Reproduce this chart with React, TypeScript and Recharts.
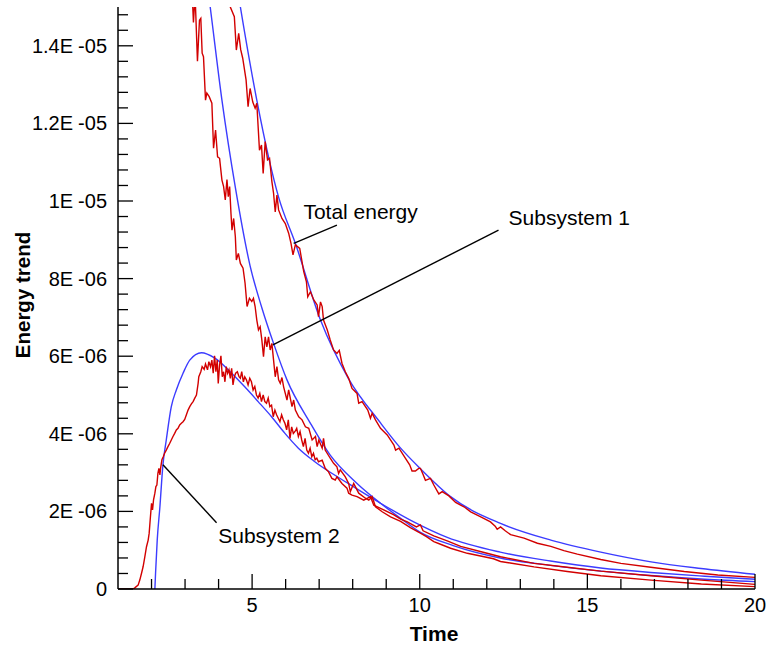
import React from "react";
import { LineChart, Line, XAxis, YAxis, ReferenceLine, ReferenceDot } from "recharts";

// values: [time, energy in units of 1E-06]
const RED_TOTAL: [number, number][] = [
  [4.3, 15.6], [4.35, 15.0], [4.47, 14.75], [4.53, 13.89], [4.6, 14.32], [4.66, 13.9],
  [4.72, 13.68], [4.82, 13.12], [4.88, 12.43], [4.94, 12.9], [5.02, 12.55], [5.09, 12.39],
  [5.14, 12.52], [5.22, 11.31], [5.28, 11.44], [5.33, 10.71], [5.39, 11.53], [5.46, 11.06],
  [5.52, 11.1], [5.59, 10.5], [5.64, 10.2], [5.69, 9.72], [5.74, 10.15], [5.79, 9.77],
  [5.89, 9.55], [5.99, 9.42], [6.09, 9.17], [6.16, 8.91], [6.22, 8.61], [6.29, 8.87],
  [6.42, 8.78], [6.54, 8.18], [6.62, 7.92], [6.66, 7.53], [6.74, 7.66], [6.84, 7.45],
  [6.94, 7.32], [6.98, 7.02], [7.04, 7.4], [7.09, 7.28], [7.13, 6.93], [7.24, 6.68],
  [7.33, 6.42], [7.43, 6.16], [7.53, 6.07], [7.6, 6.15], [7.68, 5.82], [7.78, 5.6],
  [7.88, 5.43], [7.98, 5.17], [8.13, 5.04], [8.18, 4.79], [8.28, 4.83], [8.45, 4.61],
  [8.53, 4.4], [8.58, 4.53], [8.68, 4.36], [8.83, 4.14], [9.03, 3.97], [9.23, 3.71],
  [9.28, 3.58], [9.38, 3.63], [9.57, 3.37], [9.7, 3.2], [9.77, 3.04], [9.87, 3.04],
  [9.97, 3.11], [10.02, 3.11], [10.1, 2.95], [10.17, 2.8], [10.32, 2.85], [10.42, 2.68],
  [10.57, 2.45], [10.67, 2.51], [10.87, 2.4], [11.07, 2.23], [11.22, 2.16], [11.32, 2.12],
  [11.52, 1.99], [11.82, 1.86], [12.11, 1.73], [12.25, 1.62], [12.31, 1.54], [12.41, 1.6],
  [12.55, 1.5], [12.71, 1.4], [13.11, 1.31], [13.51, 1.18], [13.91, 1.1], [14.3, 0.99],
  [14.7, 0.9], [15.4, 0.76], [16.0, 0.66], [16.89, 0.56], [17.89, 0.45], [18.89, 0.36],
  [20.0, 0.3],
];

const RED_SUB1: [number, number][] = [
  [3.2, 15.6], [3.25, 14.6], [3.3, 15.3], [3.37, 13.6], [3.43, 14.66], [3.47, 14.71],
  [3.51, 13.81], [3.55, 13.72], [3.61, 12.6], [3.65, 12.78], [3.72, 12.69], [3.8, 12.52],
  [3.85, 11.36], [3.91, 11.83], [3.97, 11.14], [4.03, 11.1], [4.1, 10.54], [4.15, 10.37],
  [4.2, 10.03], [4.25, 10.55], [4.29, 10.11], [4.33, 10.37], [4.37, 9.68], [4.4, 9.25],
  [4.45, 9.55], [4.5, 9.08], [4.53, 8.48], [4.59, 8.65], [4.65, 8.39], [4.73, 8.27],
  [4.79, 7.88], [4.85, 7.28], [4.92, 7.49], [4.99, 7.41], [5.04, 7.49], [5.09, 7.28],
  [5.14, 6.93], [5.19, 6.68], [5.24, 6.76], [5.29, 6.42], [5.34, 5.99], [5.39, 6.5],
  [5.44, 6.24], [5.49, 6.5], [5.54, 6.16], [5.59, 6.33], [5.64, 5.9], [5.69, 5.47],
  [5.74, 5.73], [5.79, 5.39], [5.84, 5.3], [5.89, 5.45], [5.94, 5.21], [6.04, 4.87],
  [6.09, 5.13], [6.19, 4.7], [6.24, 4.87], [6.29, 4.61], [6.39, 4.44], [6.49, 4.36],
  [6.59, 4.18], [6.69, 4.14], [6.79, 3.84], [6.89, 3.93], [6.94, 3.67], [6.99, 3.84],
  [7.09, 3.63], [7.13, 3.88], [7.18, 3.58], [7.33, 3.37], [7.43, 3.24], [7.53, 3.15],
  [7.58, 2.98], [7.63, 3.07], [7.78, 2.89], [7.88, 2.72], [7.93, 2.51], [8.03, 2.72],
  [8.18, 2.47], [8.38, 2.34], [8.48, 2.29], [8.58, 2.38], [8.68, 2.12], [8.88, 1.99],
  [9.13, 1.86], [9.43, 1.74], [9.72, 1.58], [10.02, 1.44], [10.2, 1.35], [10.42, 1.22],
  [10.6, 1.16], [10.92, 1.05], [11.42, 0.92], [11.92, 0.83], [12.2, 0.78], [12.41, 0.71],
  [12.7, 0.67], [13.41, 0.57], [14.4, 0.45], [15.4, 0.34], [16.9, 0.23], [18.4, 0.13],
  [20.0, 0.06],
];

const RED_SUB2: [number, number][] = [
  [1.0, 0], [1.45, 0], [1.5, 0.03], [1.6, 0.1], [1.65, 0.23], [1.7, 0.4], [1.75, 0.58],
  [1.8, 0.83], [1.85, 1.09], [1.9, 1.26], [1.93, 1.44], [1.96, 1.78], [2.0, 2.21],
  [2.03, 2.04], [2.06, 2.3], [2.1, 2.47], [2.13, 2.64], [2.16, 2.68], [2.19, 2.98],
  [2.22, 3.11], [2.25, 2.94], [2.27, 3.11], [2.31, 3.33], [2.35, 3.41], [2.39, 3.5],
  [2.44, 3.58], [2.49, 3.67], [2.54, 3.75], [2.59, 3.84], [2.64, 3.93], [2.69, 4.01],
  [2.74, 4.1], [2.79, 4.14], [2.84, 4.23], [2.89, 4.27], [2.94, 4.31], [2.99, 4.37],
  [3.04, 4.49], [3.09, 4.61], [3.14, 4.7], [3.19, 4.77], [3.24, 4.83], [3.29, 4.92],
  [3.34, 5.0], [3.39, 5.3], [3.41, 5.47], [3.47, 5.6], [3.51, 5.73], [3.57, 5.66],
  [3.61, 5.8], [3.67, 5.65], [3.71, 5.86], [3.76, 5.73], [3.8, 5.9], [3.84, 5.56],
  [3.88, 6.01], [3.92, 5.6], [3.96, 5.9], [3.99, 5.3], [4.03, 5.77], [4.07, 6.01],
  [4.11, 5.47], [4.15, 5.6], [4.19, 5.34], [4.23, 5.73], [4.27, 5.56], [4.31, 5.65],
  [4.35, 5.43], [4.39, 5.69], [4.43, 5.26], [4.47, 5.47], [4.51, 5.56], [4.56, 5.6],
  [4.61, 5.47], [4.65, 5.43], [4.69, 5.6], [4.74, 5.34], [4.78, 5.47], [4.83, 5.39],
  [4.88, 5.26], [4.93, 5.43], [4.98, 5.34], [5.03, 5.13], [5.08, 5.22], [5.13, 5.0],
  [5.18, 4.92], [5.23, 5.04], [5.28, 4.83], [5.33, 5.0], [5.38, 4.83], [5.43, 4.79],
  [5.48, 4.92], [5.53, 4.7], [5.58, 4.74], [5.63, 4.44], [5.68, 4.61], [5.73, 4.49],
  [5.78, 4.4], [5.83, 4.31], [5.88, 4.49], [5.93, 4.36], [5.98, 4.27], [6.03, 4.1],
  [6.08, 4.36], [6.13, 3.88], [6.18, 4.18], [6.23, 4.01], [6.28, 4.06], [6.33, 4.14],
  [6.38, 3.93], [6.43, 4.06], [6.48, 3.84], [6.53, 3.67], [6.58, 3.88], [6.63, 3.58],
  [6.68, 3.5], [6.73, 3.63], [6.78, 3.41], [6.83, 3.5], [6.88, 3.33], [6.93, 3.37],
  [6.98, 3.28], [7.09, 3.32], [7.18, 3.11], [7.28, 3.02], [7.38, 2.85], [7.48, 2.81],
  [7.53, 2.89], [7.68, 2.72], [7.83, 2.6], [7.88, 2.47], [7.98, 2.42], [8.13, 2.38],
  [8.33, 2.29], [8.53, 2.38], [8.63, 2.16], [8.83, 2.08], [9.23, 1.91], [9.43, 1.8],
  [9.63, 1.73], [9.9, 1.6], [10.02, 1.65], [10.1, 1.5], [10.42, 1.37], [10.82, 1.24],
  [11.22, 1.1], [11.92, 0.94], [12.41, 0.83], [13.41, 0.66], [14.4, 0.56], [15.4, 0.46],
  [16.9, 0.34], [18.4, 0.23], [20.0, 0.12],
];

const BLUE_TOTAL: [number, number][] = [
  [4.5, 15.8], [4.65, 15.0], [5.14, 12.6], [5.5, 11.1], [5.79, 10.1], [6.29, 8.91],
  [7.04, 6.93], [7.87, 5.43], [8.83, 4.28], [9.43, 3.63], [10.02, 3.1], [10.92, 2.38],
  [12.41, 1.69], [13.91, 1.26], [15.4, 0.95], [16.9, 0.7], [18.39, 0.53], [20.0, 0.38],
];

const BLUE_SUB1: [number, number][] = [
  [3.6, 16.0], [3.75, 15.0], [4.1, 12.6], [4.5, 10.35], [4.94, 8.33], [5.29, 7.25],
  [5.64, 6.33], [6.04, 5.39], [6.74, 4.27], [7.33, 3.45], [8.13, 2.72], [8.83, 2.21],
  [9.43, 1.82], [10.02, 1.46], [11.0, 1.12], [12.4, 0.8], [13.9, 0.61], [15.4, 0.46],
  [17.0, 0.34], [18.5, 0.25], [20.0, 0.19],
];

const BLUE_SUB2: [number, number][] = [
  [2.1, 0], [2.12, 0.4], [2.17, 1.26], [2.25, 2.12], [2.34, 3.2], [2.44, 3.84],
  [2.59, 4.7], [2.74, 5.13], [2.94, 5.56], [3.14, 5.9], [3.49, 6.09], [3.89, 5.95],
  [4.39, 5.56], [4.78, 5.21], [5.18, 4.83], [5.58, 4.44], [5.98, 4.01], [6.38, 3.63],
  [6.84, 3.3], [7.83, 2.74], [8.83, 2.21], [9.82, 1.73], [10.82, 1.33], [12.4, 0.95],
  [13.9, 0.72], [15.4, 0.54], [17.0, 0.42], [18.5, 0.33], [20.0, 0.25],
];

const X_TICKS = [2, 3, 4, 5, 6, 7, 8, 9, 10, 11, 12, 13, 14, 15, 16, 17, 18, 19, 20];
const X_MAJOR = [5, 10, 15, 20];
const Y_MAJOR = [0, 2, 4, 6, 8, 10, 12, 14];
const Y_LABELS = ["0", "2E-06", "4E-06", "6E-06", "8E-06", "1E-05", "1.2E-05", "1.4E-05"];
const Y_TICKS = Array.from({ length: 38 }, (_, i) => Math.round(i * 4) / 10);

// leader lines and their captions, in data units
const NOTES = [
  { text: "Total energy", from: [6.24, 8.91], to: [7.53, 9.38], at: [6.53, 9.54] },
  { text: "Subsystem 1", from: [5.62, 6.29], to: [12.35, 9.25], at: [12.65, 9.38] },
  { text: "Subsystem 2", from: [2.34, 3.2], to: [3.94, 1.71], at: [3.99, 1.19] },
];

const RED = "#d20000";
const BLUE = "#3c3cff";
const FONT = "'Liberation Sans', Arial, sans-serif";

const rows = (pts: [number, number][]) => pts.map(([t, e]) => ({ t, e }));

function YTick({ x, y, payload }: any) {
  const i = Y_MAJOR.indexOf(payload.value);
  const label = i >= 0 ? Y_LABELS[i] : null;
  const parts = label ? label.split("E") : [];
  return (
    <g>
      <line x1={x} x2={x + (i >= 0 ? 15 : 10)} y1={y} y2={y} stroke="#000" strokeWidth={1.3} />
      {label && (
        <text x={x - 11} y={y} textAnchor="end" dominantBaseline="central" fontSize={20} fontFamily={FONT} fill="#000">
          {parts.length > 1 ? (
            <>
              {parts[0]}E<tspan dx={5}>{parts[1]}</tspan>
            </>
          ) : (
            label
          )}
        </text>
      )}
    </g>
  );
}

function XTick({ x, y, payload }: any) {
  const major = X_MAJOR.includes(payload.value);
  return (
    <g>
      <line x1={x} x2={x} y1={y} y2={y - (major ? 15 : 10)} stroke="#000" strokeWidth={1.3} />
      {major && (
        <text x={x} y={y + 23} textAnchor="middle" fontSize={20} fontFamily={FONT} fill="#000">
          {payload.value}
        </text>
      )}
    </g>
  );
}

export default function App() {
  return (
    <div style={{ position: "absolute", left: 0, top: 0, background: "#fff" }}>
      <LineChart width={768} height={645} margin={{ top: 7, right: 13, bottom: 0, left: 0 }}>
        <XAxis
          type="number"
          dataKey="t"
          domain={[1, 20]}
          allowDataOverflow
          ticks={X_TICKS}
          interval={0}
          height={56}
          tickSize={0}
          tickMargin={0}
          tickLine={false}
          axisLine={{ stroke: "#000", strokeWidth: 1.5 }}
          tick={<XTick />}
          label={{
            content: () => (
              <text x={434} y={641} textAnchor="middle" fontSize={21} fontWeight="bold" fontFamily={FONT} fill="#000">
                Time
              </text>
            ),
          }}
        />
        <YAxis
          type="number"
          dataKey="e"
          domain={[0, 15]}
          allowDataOverflow
          ticks={Y_TICKS}
          interval={0}
          width={118}
          tickSize={0}
          tickMargin={0}
          tickLine={false}
          axisLine={{ stroke: "#000", strokeWidth: 1.5 }}
          tick={<YTick />}
          label={{
            content: () => (
              <text
                x={22}
                y={295}
                transform="rotate(-90 22 295)"
                textAnchor="middle"
                dominantBaseline="central"
                fontSize={20.5}
                fontWeight="bold"
                fontFamily={FONT}
                fill="#000"
              >
                Energy trend
              </text>
            ),
          }}
        />
        <Line data={rows(BLUE_TOTAL)} dataKey="e" type="monotone" stroke={BLUE} strokeWidth={1.4} dot={false} isAnimationActive={false} />
        <Line data={rows(BLUE_SUB1)} dataKey="e" type="monotone" stroke={BLUE} strokeWidth={1.4} dot={false} isAnimationActive={false} />
        <Line data={rows(BLUE_SUB2)} dataKey="e" type="monotone" stroke={BLUE} strokeWidth={1.4} dot={false} isAnimationActive={false} />
        <Line data={rows(RED_TOTAL)} dataKey="e" type="linear" stroke={RED} strokeWidth={1.4} dot={false} isAnimationActive={false} />
        <Line data={rows(RED_SUB1)} dataKey="e" type="linear" stroke={RED} strokeWidth={1.4} dot={false} isAnimationActive={false} />
        <Line data={rows(RED_SUB2)} dataKey="e" type="linear" stroke={RED} strokeWidth={1.4} dot={false} isAnimationActive={false} />
        {NOTES.map((n) => (
          <ReferenceLine
            key={n.text + "-line"}
            segment={[{ x: n.from[0], y: n.from[1] }, { x: n.to[0], y: n.to[1] }]}
            stroke="#000"
            strokeWidth={1.4}
          />
        ))}
        {NOTES.map((n) => (
          <ReferenceDot
            key={n.text}
            x={n.at[0]}
            y={n.at[1]}
            r={0}
            fill="none"
            stroke="none"
            label={{
              content: (p: any) => (
                <text x={p.viewBox.x} y={p.viewBox.y} fontSize={21} fontFamily={FONT} fill="#000">
                  {n.text}
                </text>
              ),
            }}
          />
        ))}
      </LineChart>
    </div>
  );
}
